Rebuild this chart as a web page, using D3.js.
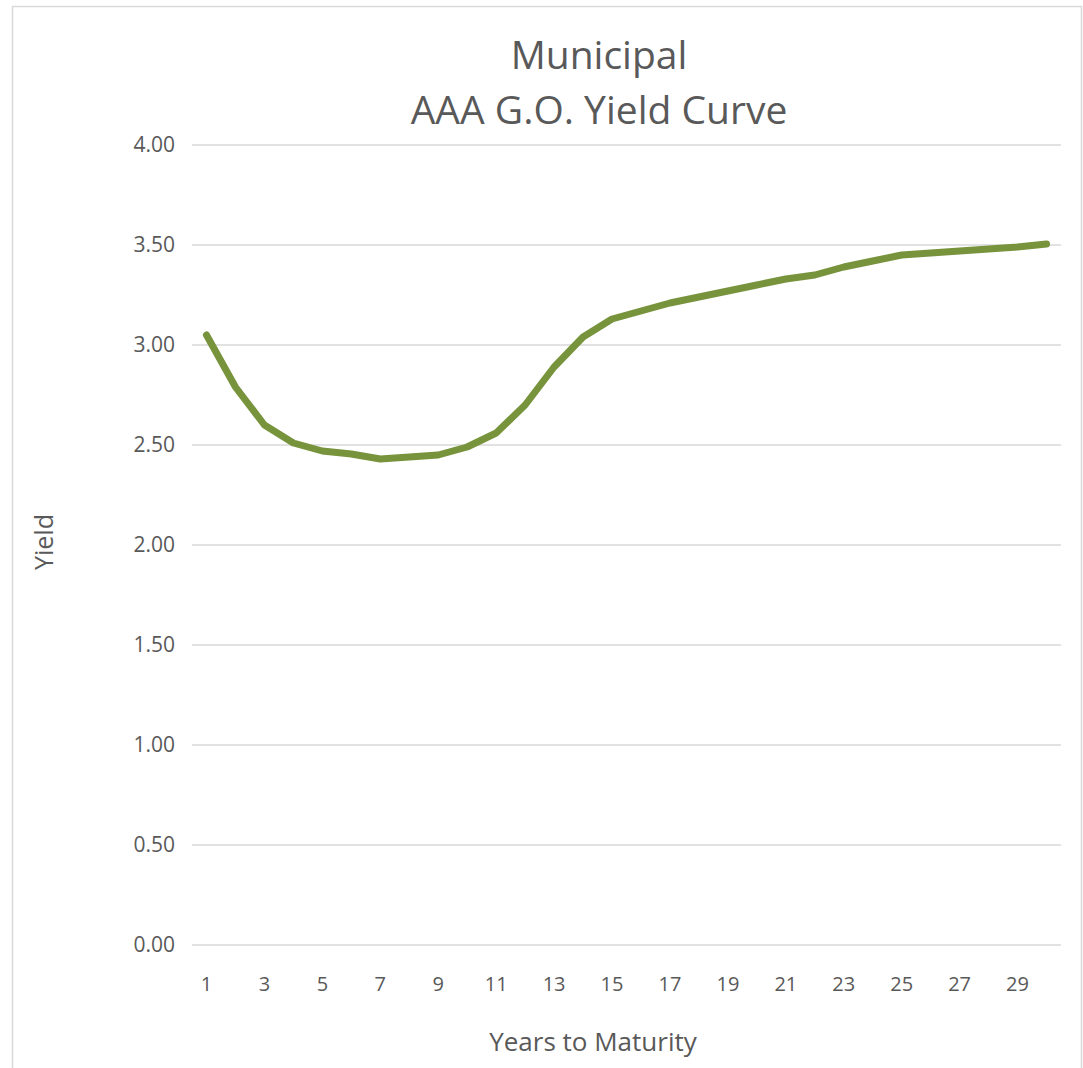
<!DOCTYPE html>
<html>
<head>
<meta charset="utf-8">
<script src="https://cdn.jsdelivr.net/npm/d3@7"></script>
<style>
  html, body { margin: 0; padding: 0; background: #fff; }
  svg { display: block; }
  text { font-family: "Open Sans", "Noto Sans", sans-serif; fill: #595959; }
</style>
</head>
<body>
<svg id="chart" width="1083" height="1068"></svg>
<script>
const years = d3.range(1, 31);
const yields = [3.05, 2.79, 2.60, 2.51, 2.47, 2.455, 2.43, 2.44, 2.45, 2.49,
                2.56, 2.70, 2.89, 3.04, 3.13, 3.17, 3.21, 3.24, 3.27, 3.30,
                3.33, 3.35, 3.39, 3.42, 3.45, 3.46, 3.47, 3.48, 3.49, 3.505];
const yTicks = [0, 0.5, 1, 1.5, 2, 2.5, 3, 3.5, 4];
const xTickLabels = years.filter(d => d % 2 === 1);
const titleLines = ["Municipal", "AAA G.O. Yield Curve"];
const xTitle = "Years to Maturity";
const yTitle = "Yield";

const svg = d3.select("#chart");
const m = { left: 192, right: 1061, top: 145, bottom: 945 };

// outer frame
svg.append("rect").attr("x", 12.5).attr("y", 6.5).attr("width", 1069).attr("height", 1080)
  .attr("fill", "#fff").attr("stroke", "#d9d9d9").attr("stroke-width", 1.5);

const x = d3.scaleBand().domain(years).range([m.left, m.right]);
const y = d3.scaleLinear().domain([0, 4]).range([m.bottom, m.top]);

// gridlines
svg.append("g").selectAll("line").data(yTicks).join("line")
  .attr("x1", m.left).attr("x2", m.right)
  .attr("y1", d => y(d)).attr("y2", d => y(d))
  .attr("stroke", "#d9d9d9").attr("stroke-width", 1.5);

// y axis
const yAxis = d3.axisLeft(y).tickValues(yTicks).tickFormat(d3.format(".2f")).tickSize(0).tickPadding(0);
const gy = svg.append("g").attr("transform", `translate(${m.left - 17},0)`).call(yAxis);
gy.select(".domain").remove();
gy.selectAll("text").attr("font-size", 21).style("fill", "#595959")
  .attr("font-family", "'Open Sans', sans-serif");

// x axis
const xAxis = d3.axisBottom(x).tickValues(xTickLabels).tickSize(0).tickPadding(0);
const gx = svg.append("g").attr("transform", `translate(0,${m.bottom + 32})`).call(xAxis);
gx.select(".domain").remove();
gx.selectAll("text").attr("font-size", 20).style("fill", "#595959").attr("dy", "0.71em")
  .attr("font-family", "'Open Sans', sans-serif");

// line
const line = d3.line()
  .x((d, i) => x(years[i]) + x.bandwidth() / 2)
  .y(d => y(d))
  .curve(d3.curveLinear);
svg.append("path").datum(yields)
  .attr("d", line)
  .attr("fill", "none")
  .attr("stroke", "#77933c")
  .attr("stroke-width", 7)
  .attr("stroke-linejoin", "round")
  .attr("stroke-linecap", "round");

// title
svg.append("text").attr("x", 599).attr("y", 69).attr("text-anchor", "middle")
  .attr("font-size", 39).text(titleLines[0]);
svg.append("text").attr("x", 599).attr("y", 124).attr("text-anchor", "middle")
  .attr("font-size", 39).text(titleLines[1]);

// axis titles
svg.append("text").attr("x", 593).attr("y", 1051).attr("text-anchor", "middle")
  .attr("font-size", 26).text(xTitle);
svg.append("text").attr("transform", "translate(53,542) rotate(-90)").attr("text-anchor", "middle")
  .attr("font-size", 25).text(yTitle);
</script>
</body>
</html>
